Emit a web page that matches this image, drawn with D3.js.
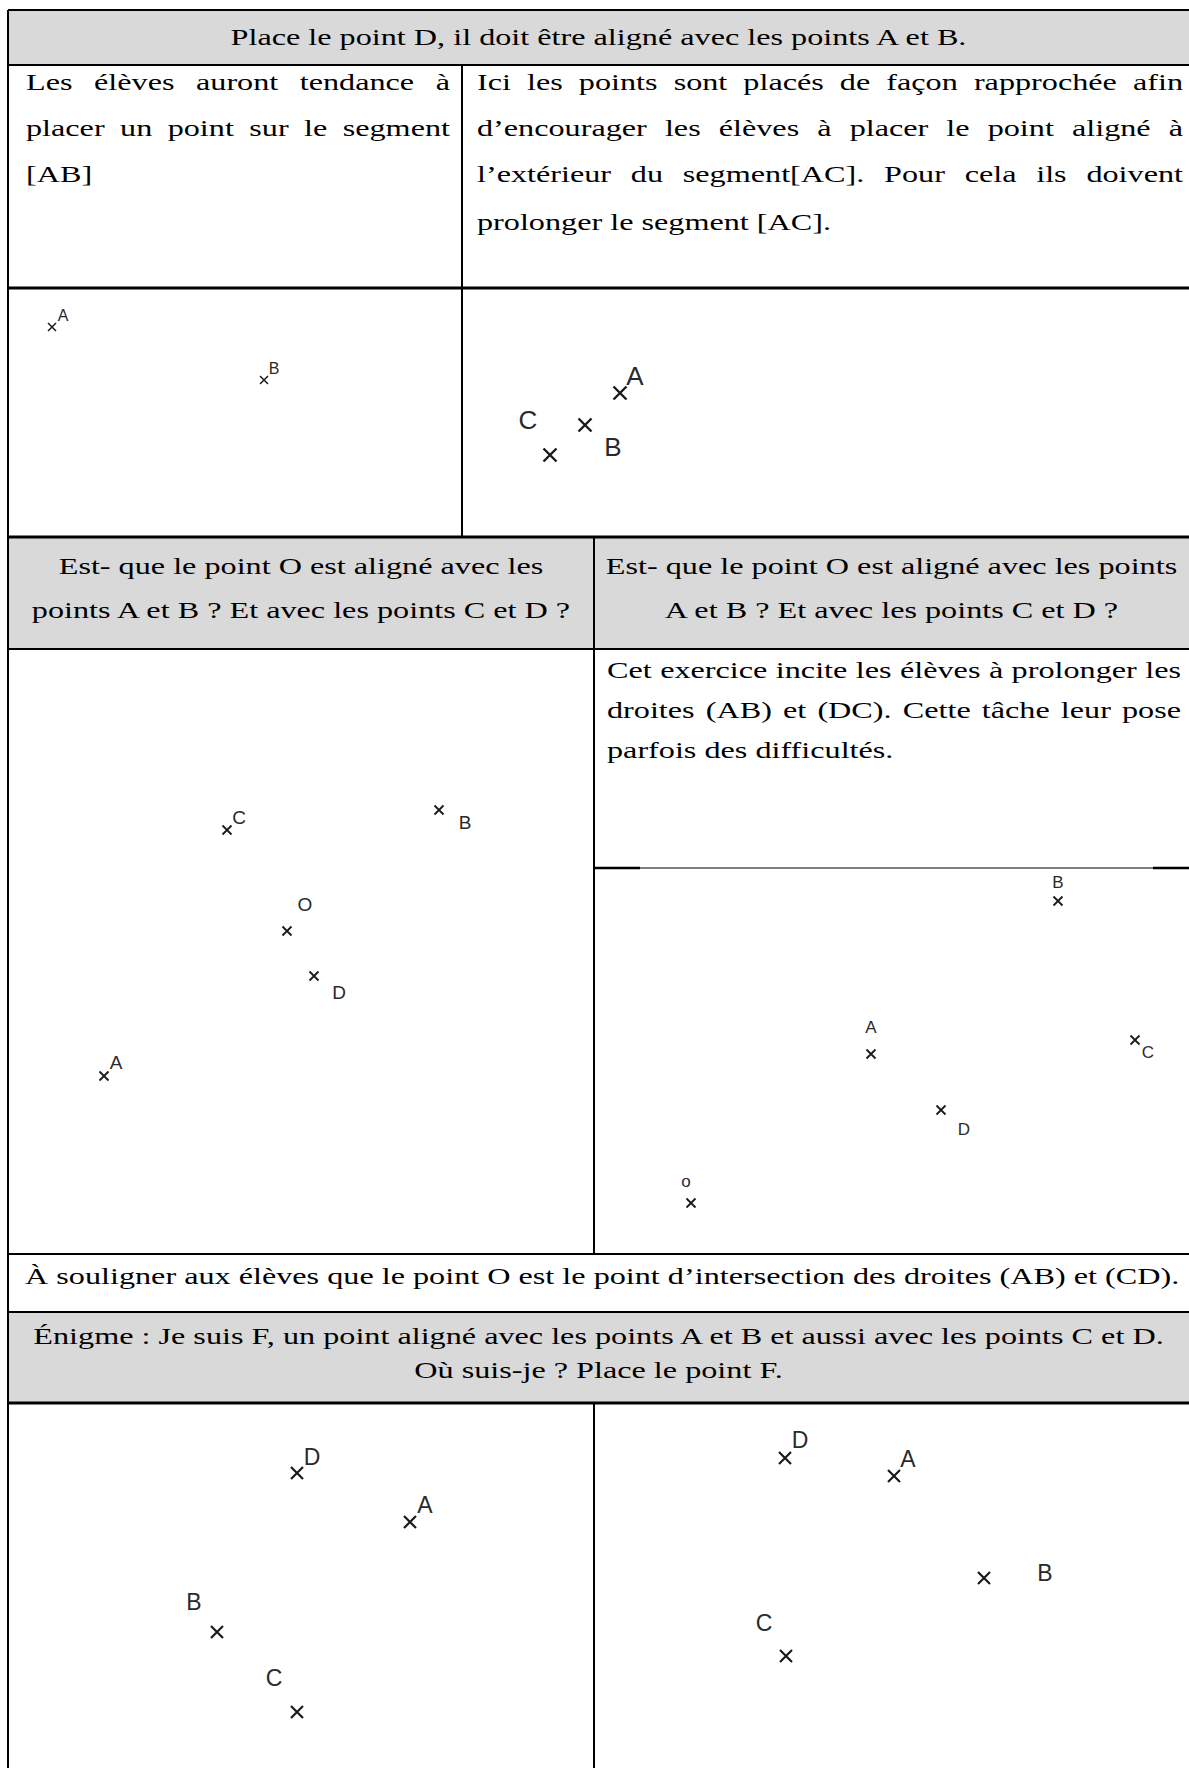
<!DOCTYPE html>
<html>
<head>
<meta charset="utf-8">
<script src="https://cdn.jsdelivr.net/npm/d3@7"></script>
<style>
body { margin: 0; background: #fff; }
svg { display: block; }
</style>
</head>
<body>
<script>
var width = 1189
var height = 1768
var fontSize = 24
var stretch = 1.342

// texts of the table
var headerLines = ["Place le point D, il doit être aligné avec les points A et B."]
var introLeft = ["Les élèves auront tendance à", "placer un point sur le segment", "[AB]"]
var introRight = ["Ici les points sont placés de façon rapprochée afin",
                  "d’encourager les élèves à placer le point aligné à",
                  "l’extérieur du segment[AC]. Pour cela ils doivent",
                  "prolonger le segment [AC]."]
var questionLeft = ["Est- que le point O est aligné avec les", "points A et B ? Et avec les points C et D ?"]
var questionRight = ["Est- que le point O est aligné avec les points", "A et B ? Et avec les points C et D ?"]
var commentLines = ["Cet exercice incite les élèves à prolonger les",
                    "droites (AB) et (DC). Cette tâche leur pose",
                    "parfois des difficultés."]
var remarkLines = ["À souligner aux élèves que le point O est le point d’intersection des droites (AB) et (CD)."]
var riddleLines = ["Énigme : Je suis F, un point aligné avec les points A et B et aussi avec les points C et D.",
                   "Où suis-je ? Place le point F."]

// points of each figure, in the figure's own units
var fig1Names = ["A", "B"]
var fig1X = [44, 256]
var fig1Y = [39, 92]

var fig2Names = ["A", "B", "C"]
var fig2X = [158, 123, 88]
var fig2Y = [105, 137, 167]

var fig3Names = ["C", "B", "O", "D", "A"]
var fig3X = [219, 431, 279, 306, 96]
var fig3Y = [181, 161, 282, 327, 427]

var fig4Names = ["B", "A", "C", "D", "o"]
var fig4X = [464, 277, 541, 347, 97]
var fig4Y = [33, 186, 172, 242, 335]

var fig5Names = ["D", "A", "B", "C"]
var fig5X = [289, 402, 209, 289]
var fig5Y = [70, 119, 229, 309]

var fig6Names = ["D", "A", "B", "C"]
var fig6X = [191, 300, 390, 192]
var fig6Y = [55, 73, 175, 253]

// table layout
var left = 8, right = 1189
var rowY = [10, 65, 288, 537, 649, 1254, 1312, 1403]
var colA = 462, colB = 594, midY = 868
var gray = "#d9d9d9"

var svg = d3.select("body").append("svg")
    .attr("width", width)
    .attr("height", height)

svg.append("rect").attr("width", width).attr("height", height).attr("fill", "#fff")

var fills = [[rowY[0], rowY[1]], [rowY[3], rowY[4]], [rowY[6], rowY[7]]]
svg.selectAll(".fill").data(fills).enter().append("rect")
    .attr("x", left).attr("width", right - left)
    .attr("y", function(d) { return d[0] })
    .attr("height", function(d) { return d[1] - d[0] })
    .attr("fill", gray)

var text = svg.append("g")
    .attr("font-family", "'Liberation Serif', 'Times New Roman', serif")
    .attr("font-size", fontSize)
    .attr("fill", "#000")

function textAt(str, x, y, anchor) {
    return text.append("text")
        .attr("transform", "translate(" + x + "," + y + ") scale(" + stretch + ",1)")
        .attr("text-anchor", anchor || "start")
        .attr("dominant-baseline", "central")
        .text(str)
}

function justified(str, x0, x1, y) {
    var words = str.split(" ")
    var nodes = words.map(function(w) { return textAt(w, 0, y) })
    var widths = nodes.map(function(n) { return n.node().getComputedTextLength() * stretch })
    var gap = (x1 - x0 - d3.sum(widths)) / (words.length - 1)
    var x = x0
    nodes.forEach(function(n, i) {
        n.attr("transform", "translate(" + x + "," + y + ") scale(" + stretch + ",1)")
        x += widths[i] + gap
    })
}

function block(lines, ys, x0, x1, mode) {
    lines.forEach(function(l, i) {
        var last = i == lines.length - 1
        if (mode == "center") textAt(l, (x0 + x1) / 2, ys[i], "middle")
        else if (mode == "justify" && !last) justified(l, x0, x1, ys[i])
        else textAt(l, x0, ys[i])
    })
}

block(headerLines, [37], left, right, "center")
block(introLeft, [82, 128, 174], 26, 450, "justify")
block(introRight, [82, 128, 174, 222], 477, 1183, "justify")
block(questionLeft, [566, 610], left, colB, "center")
block(questionRight, [566, 610], colB, right, "center")
block(commentLines, [670, 710, 750], 607, 1181, "justify")
block(remarkLines, [1276], 25, 1182, "left")
block(riddleLines, [1336, 1370], left, right, "center")

// figures
var panels = [
    { names: fig1Names, xs: fig1X, ys: fig1Y, box: [left, colA, rowY[2], rowY[3]],
      font: 16, half: 4, stroke: 1.5, lab: [[11, -12], [10, -12]] },
    { names: fig2Names, xs: fig2X, ys: fig2Y, box: [colA, right, rowY[2], rowY[3]],
      font: 26, half: 6.5, stroke: 2.4, lab: [[15, -17], [28, 22], [-22, -35]] },
    { names: fig3Names, xs: fig3X, ys: fig3Y, box: [left, colB, rowY[4], rowY[5]],
      font: 19, half: 4.5, stroke: 1.8, lab: [[12, -13], [26, 12], [18, -27], [25, 16], [12, -14]] },
    { names: fig4Names, xs: fig4X, ys: fig4Y, box: [colB, right, midY, rowY[5]],
      font: 17, half: 4.5, stroke: 1.8, lab: [[0, -19], [0, -27], [13, 12], [23, 19], [-5, -22]] },
    { names: fig5Names, xs: fig5X, ys: fig5Y, box: [left, colB, rowY[7], height],
      font: 23, half: 6, stroke: 2.2, lab: [[15, -16], [15, -17], [-23, -30], [-23, -34]] },
    { names: fig6Names, xs: fig6X, ys: fig6Y, box: [colB, right, rowY[7], height],
      font: 23, half: 6, stroke: 2.2, lab: [[15, -18], [14, -17], [61, -5], [-22, -33]] }
]

panels.forEach(function(p) {
    var x = d3.scaleLinear().domain([0, p.box[1] - p.box[0]]).range([p.box[0], p.box[1]])
    var y = d3.scaleLinear().domain([0, p.box[3] - p.box[2]]).range([p.box[2], p.box[3]])
    var pts = p.names.map(function(n, i) { return { name: n, x: p.xs[i], y: p.ys[i], lab: p.lab[i] } })
    var g = svg.append("g")
    var h = p.half
    g.selectAll("path").data(pts).enter().append("path")
        .attr("d", "M" + (-h) + "," + (-h) + "L" + h + "," + h + "M" + (-h) + "," + h + "L" + h + "," + (-h))
        .attr("transform", function(d) { return "translate(" + x(d.x) + "," + y(d.y) + ")" })
        .attr("stroke", "#1a1a1a")
        .attr("stroke-width", p.stroke)
        .attr("fill", "none")
    g.selectAll("text").data(pts).enter().append("text")
        .attr("x", function(d) { return x(d.x) + d.lab[0] })
        .attr("y", function(d) { return y(d.y) + d.lab[1] })
        .attr("text-anchor", "middle")
        .attr("dominant-baseline", "central")
        .attr("font-family", "'Liberation Sans', Arial, sans-serif")
        .attr("font-size", p.font)
        .attr("fill", "#2a2a2a")
        .text(function(d) { return d.name })
})

// borders
var lines = [
    [left, rowY[0], right, rowY[0], 2],
    [left, rowY[1], right, rowY[1], 2],
    [left, rowY[2], right, rowY[2], 3],
    [left, rowY[3], right, rowY[3], 3],
    [left, rowY[4], right, rowY[4], 2],
    [left, rowY[5], right, rowY[5], 2],
    [left, rowY[6], right, rowY[6], 2],
    [left, rowY[7], right, rowY[7], 3],
    [colB, midY, 640, midY, 2.5],
    [640, midY, 1153, midY, 1.2],
    [1153, midY, right, midY, 2.5],
    [left, rowY[0], left, height, 2],
    [colA, rowY[1], colA, rowY[3], 2],
    [colB, rowY[3], colB, rowY[5], 2],
    [colB, rowY[7], colB, height, 2]
]
svg.selectAll(".border").data(lines).enter().append("line")
    .attr("x1", function(d) { return d[0] })
    .attr("y1", function(d) { return d[1] })
    .attr("x2", function(d) { return d[2] })
    .attr("y2", function(d) { return d[3] })
    .attr("stroke", "#000")
    .attr("stroke-width", function(d) { return d[4] })
</script>
</body>
</html>
